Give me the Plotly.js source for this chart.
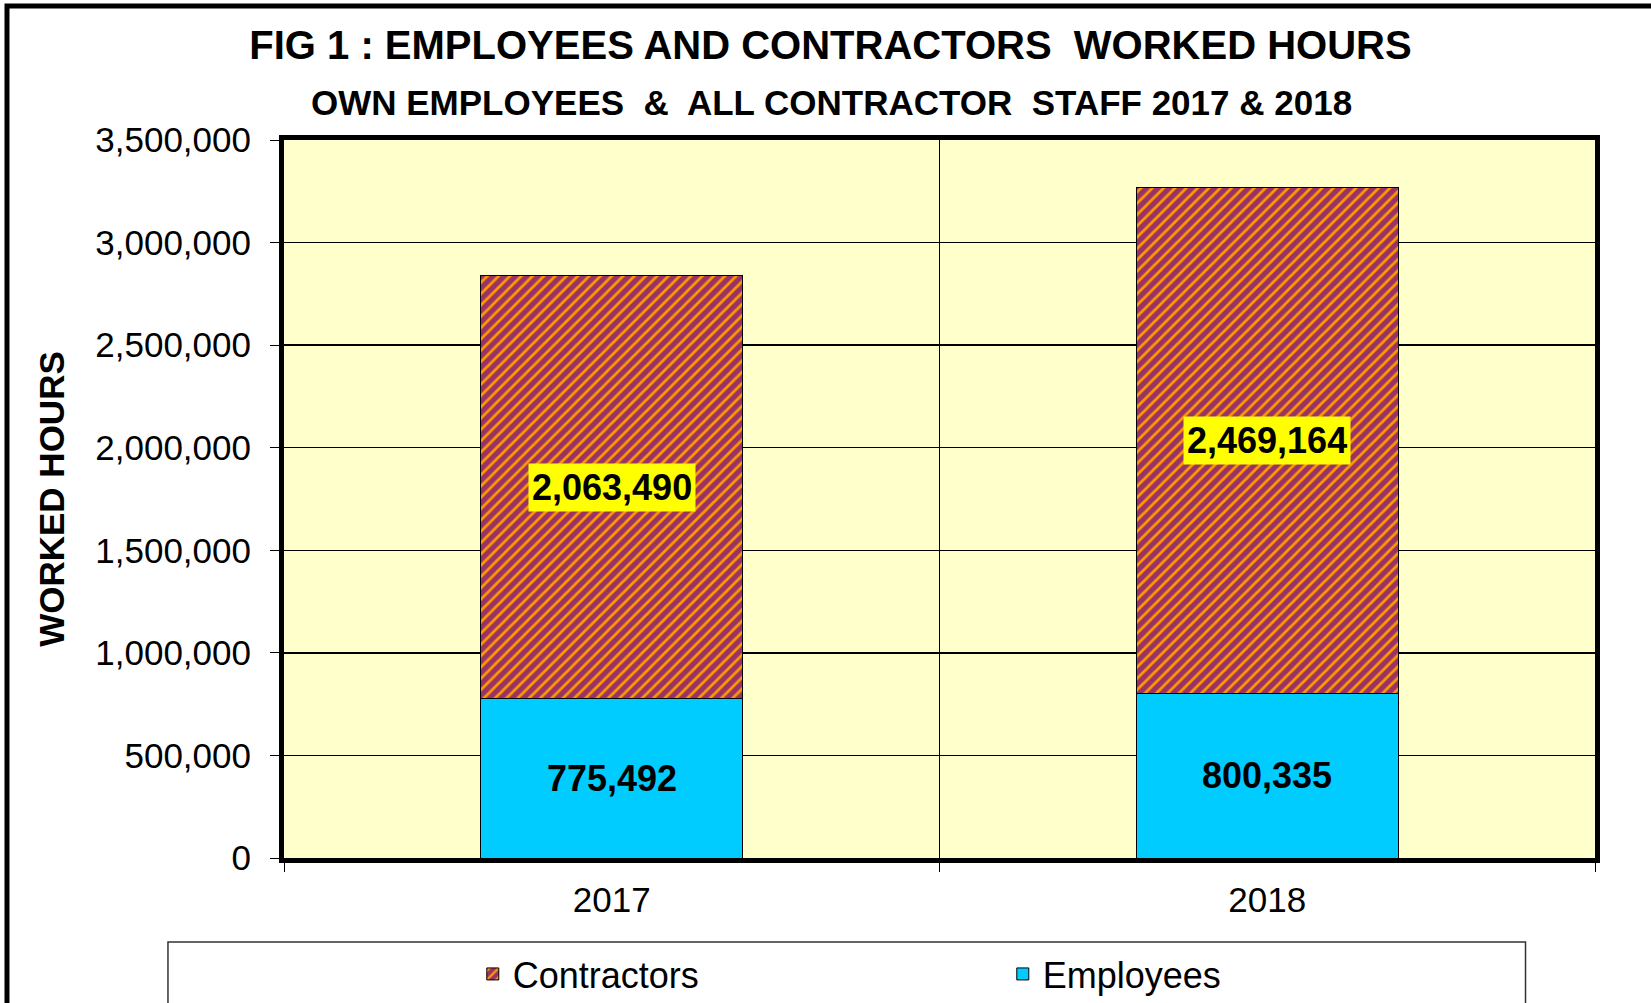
<!DOCTYPE html>
<html>
<head>
<meta charset="utf-8">
<script src="https://cdn.plot.ly/plotly-3.0.1.min.js"></script>
<style>
  html, body { margin: 0; padding: 0; background: #fff; }
  #chart { width: 1651px; height: 1003px; }
</style>
</head>
<body>
<div id="chart"></div>
<script>
// worked hours per year
var years = ["2017", "2018"];
var employees = [775492, 800335];
var contractors = [2063490, 2469164];

var font = "Liberation Sans, Arial, sans-serif";

var empTrace = {
  x: years,
  y: employees,
  name: "Employees",
  type: "bar",
  marker: {color: "#00CCFF", line: {color: "#000", width: 1}},
  hoverinfo: "skip"
};

var conTrace = {
  x: years,
  y: contractors,
  name: "Contractors",
  type: "bar",
  marker: {
    color: "#993366",
    line: {color: "#000", width: 1},
    pattern: {shape: "/", bgcolor: "#993366", fgcolor: "#FF9900", size: 8, solidity: 0.35, fillmode: "replace"}
  },
  hoverinfo: "skip"
};

// value labels, centred in each segment (x given as category index)
var annotations = [];
for (var i = 0; i < years.length; i++) {
  annotations.push({
    x: i, y: employees[i] / 2, text: employees[i].toLocaleString("en-US"),
    showarrow: false, font: {family: font, size: 36, color: "#000", weight: "bold"}
  });
  annotations.push({
    x: i, y: employees[i] + contractors[i] / 2, text: contractors[i].toLocaleString("en-US"),
    showarrow: false, bgcolor: "#FFFF00", borderpad: 3,
    font: {family: font, size: 36, color: "#000", weight: "bold"}
  });
}
annotations.push({
  xref: "paper", yref: "paper", x: 0.418, y: 1.0529, yanchor: "middle",
  text: "OWN EMPLOYEES  &  ALL CONTRACTOR  STAFF 2017 & 2018", showarrow: false,
  font: {family: font, size: 35, color: "#000", weight: "bold"}
});

var layout = {
  width: 1651,
  height: 1003,
  margin: {l: 284, r: 56, t: 140, b: 145, autoexpand: false},
  paper_bgcolor: "#fff",
  plot_bgcolor: "#FFFFCC",
  barmode: "stack",
  bargap: 0.6,
  font: {family: font, color: "#000", size: 34},
  title: {
    text: "FIG 1 : EMPLOYEES AND CONTRACTORS  WORKED HOURS",
    font: {family: font, size: 40, color: "#000", weight: "bold"},
    xref: "container", x: 0.503, yref: "container", y: 0.955, yanchor: "middle"
  },
  xaxis: {
    type: "category",
    range: [-0.5, 1.5],
    tickson: "boundaries",
    showgrid: true, gridcolor: "#000", gridwidth: 1.5,
    showline: true, mirror: true, linecolor: "#000", linewidth: 5,
    ticks: "outside", ticklen: 9, tickcolor: "#000", tickwidth: 1,
    ticklabelstandoff: 7,
    tickfont: {size: 35}
  },
  yaxis: {
    range: [0, 3500000],
    dtick: 500000,
    tickformat: ",d",
    showgrid: true, gridcolor: "#000", gridwidth: 1.5,
    zeroline: false,
    showline: true, mirror: true, linecolor: "#000", linewidth: 5,
    ticks: "outside", ticklen: 9, tickcolor: "#000", tickwidth: 1,
    ticklabelstandoff: 12,
    tickfont: {size: 35},
    title: {text: "WORKED HOURS", standoff: 22, font: {size: 35, weight: "bold"}}
  },
  legend: {
    orientation: "h",
    traceorder: "reversed",
    x: 0.144, xanchor: "left",
    y: -0.1616, yanchor: "middle",
    bgcolor: "rgba(0,0,0,0)",
    entrywidth: 485,
    font: {size: 36}
  },
  shapes: [
    // legend frame
    {type: "rect", xref: "paper", yref: "paper", x0: -0.0885, x1: 0.947, y0: -0.117, y1: -0.3,
     line: {color: "#333", width: 1.5}, layer: "below"},
    // outer chart frame
    {type: "rect", xref: "paper", yref: "paper", x0: -0.2113, x1: 1.06, y0: -0.22, y1: 1.1866,
     line: {color: "#000", width: 5}}
  ],
  annotations: annotations,
  showlegend: true
};

Plotly.newPlot("chart", [empTrace, conTrace], layout, {displayModeBar: false, staticPlot: true});
</script>
</body>
</html>
